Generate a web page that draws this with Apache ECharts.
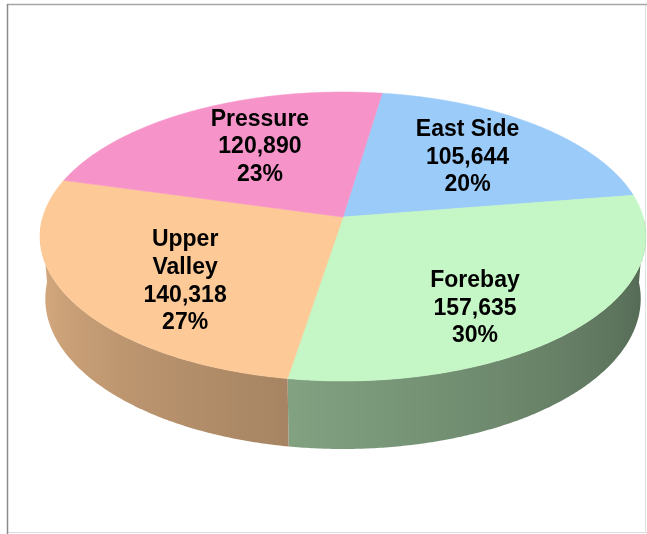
<!DOCTYPE html>
<html><head><meta charset="utf-8">
<script src="https://cdn.jsdelivr.net/npm/echarts@6/dist/echarts.min.js"></script>
<style>html,body{margin:0;padding:0;background:#fff}#c{width:647px;height:534px}</style>
</head><body><div id="c"></div>
<script>
// ---- data ----
const categories = ['East Side', 'Forebay', 'Upper Valley', 'Pressure'];
const labelNames = ['East Side', 'Forebay', 'Upper\nValley', 'Pressure'];
const values = [105644, 157635, 140318, 120890];
const topColors = ['#9BCBF8', '#C5F6C5', '#FDC996', '#F693C9'];

// ---- 3D projection layout ----
const START = 81.5;          // start angle (deg) of first slice, clockwise
const OX = 343, OY = 217;    // screen position of pie centre (top face)
const F = 1960, LD = 6.53;   // focal length, camera distance (radius units)
const ELEV = 28.2 * Math.PI / 180;
const SE = Math.sin(ELEV), CE = Math.cos(ELEV);
const H = 0.2375;            // thickness (radius units)
const LABEL_R = 0.63;
const labelNudge = [[-1, 0], [-10, 24], [9, 14], [13, 0]];

const DEG = Math.PI / 180;
const total = values.reduce((a, b) => a + b, 0);

function P(phiDeg, Y, r) {
  r = r == null ? 1 : r;
  const X = r * Math.cos(phiDeg * DEG);
  const Z = -r * Math.sin(phiDeg * DEG);
  const depth = LD - (Y * SE + Z * CE);
  return [OX + F * X / depth, OY - F * (Y * CE - Z * SE) / depth];
}
function shade(hex, k) {
  const n = parseInt(hex.slice(1), 16);
  const r = Math.min(255, Math.round(((n >> 16) & 255) * k));
  const g = Math.min(255, Math.round(((n >> 8) & 255) * k));
  const b = Math.min(255, Math.round((n & 255) * k));
  return 'rgb(' + r + ',' + g + ',' + b + ')';
}
function norm(a) { a = a % 360; if (a > 180) a -= 360; if (a <= -180) a += 360; return a; }
function shadeFactor(phi) {
  const m = norm(phi);
  return Math.max(0.38, Math.min(0.9, 0.66 + (-100 - m) * 0.0028));
}

function renderItem(params, api) {
  const i = params.dataIndex;
  const v = api.value(0);
  let before = 0;
  for (let k = 0; k < i; k++) before += values[k];
  const a0 = START - before / total * 360;
  const a1 = a0 - v / total * 360;
  const n = Math.max(2, Math.ceil((a0 - a1) * 2));
  const children = [];
  // side wall (visible front part) as one polygon with a shaded gradient
  const vis = [];
  for (let j = 0; j <= n; j++) {
    const a = a0 - (a0 - a1) * j / n;
    if (-Math.sin(a * DEG) > 0.02) vis.push(a);
  }
  if (vis.length > 1) {
    const topPts = vis.map(a => P(a, 0));
    const botPts = vis.map(a => P(a, -H));
    const all = topPts.concat(botPts.slice().reverse());
    let minX = Infinity, maxX = -Infinity;
    all.forEach(p => { minX = Math.min(minX, p[0]); maxX = Math.max(maxX, p[0]); });
    const stops = [];
    const idx = topPts.map((p, k) => k).sort((x, y) => topPts[x][0] - topPts[y][0]);
    idx.forEach(k => {
      const off = Math.max(0, Math.min(1, (topPts[k][0] - minX) / (maxX - minX)));
      stops.push({ offset: off, color: shade(topColors[i], shadeFactor(vis[k])) });
    });
    stops[0].offset = 0; stops[stops.length - 1].offset = 1;
    children.push({
      type: 'polygon', z2: 1,
      shape: { points: all },
      style: {
        fill: new echarts.graphic.LinearGradient(0, 0, 1, 0, stops),
        stroke: null
      }
    });
  }
  // top face
  const pts = [[OX, OY]];
  for (let j = 0; j <= n; j++) pts.push(P(a0 - (a0 - a1) * j / n, 0));
  children.push({
    type: 'polygon', z2: 10,
    shape: { points: pts },
    style: { fill: topColors[i], stroke: topColors[i], lineWidth: 0.6 }
  });
  // label
  const midA = (a0 + a1) / 2;
  const lp = P(midA, 0, LABEL_R);
  const pct = Math.round(v / total * 100) + '%';
  children.push({
    type: 'text', z2: 20,
    style: {
      x: lp[0] + labelNudge[i][0], y: lp[1] + labelNudge[i][1],
      text: labelNames[i] + '\n' + v.toLocaleString('en-US') + '\n' + pct,
      fill: '#000', fontSize: 23, fontWeight: 'bold',
      fontFamily: '"Liberation Sans", Arial, sans-serif',
      align: 'center', verticalAlign: 'middle', lineHeight: 27.6
    }
  });
  return { type: 'group', children: children };
}

const chart = echarts.init(document.getElementById('c'), null, { renderer: 'canvas' });
chart.setOption({
  backgroundColor: '#ffffff',
  animation: false,
  graphic: [
    { type: 'line', shape: { x1: 645.5, y1: 4, x2: 645.5, y2: 533 }, style: { stroke: '#e2e2e2', lineWidth: 1 } },
    { type: 'line', shape: { x1: 7, y1: 532.5, x2: 647, y2: 532.5 }, style: { stroke: '#dcdcdc', lineWidth: 1 } },
    { type: 'line', shape: { x1: 7, y1: 4.5, x2: 647, y2: 4.5 }, style: { stroke: '#a6a6a6', lineWidth: 1.5 } },
    { type: 'line', shape: { x1: 7.5, y1: 4, x2: 7.5, y2: 534 }, style: { stroke: '#8a8a8a', lineWidth: 1.5 } }
  ],
  series: [{
    type: 'custom',
    coordinateSystem: 'none',
    silent: true,
    name: 'Region',
    data: values.map((v, i) => ({ name: categories[i], value: [v] })),
    renderItem: renderItem
  }]
});
</script>
</body></html>
